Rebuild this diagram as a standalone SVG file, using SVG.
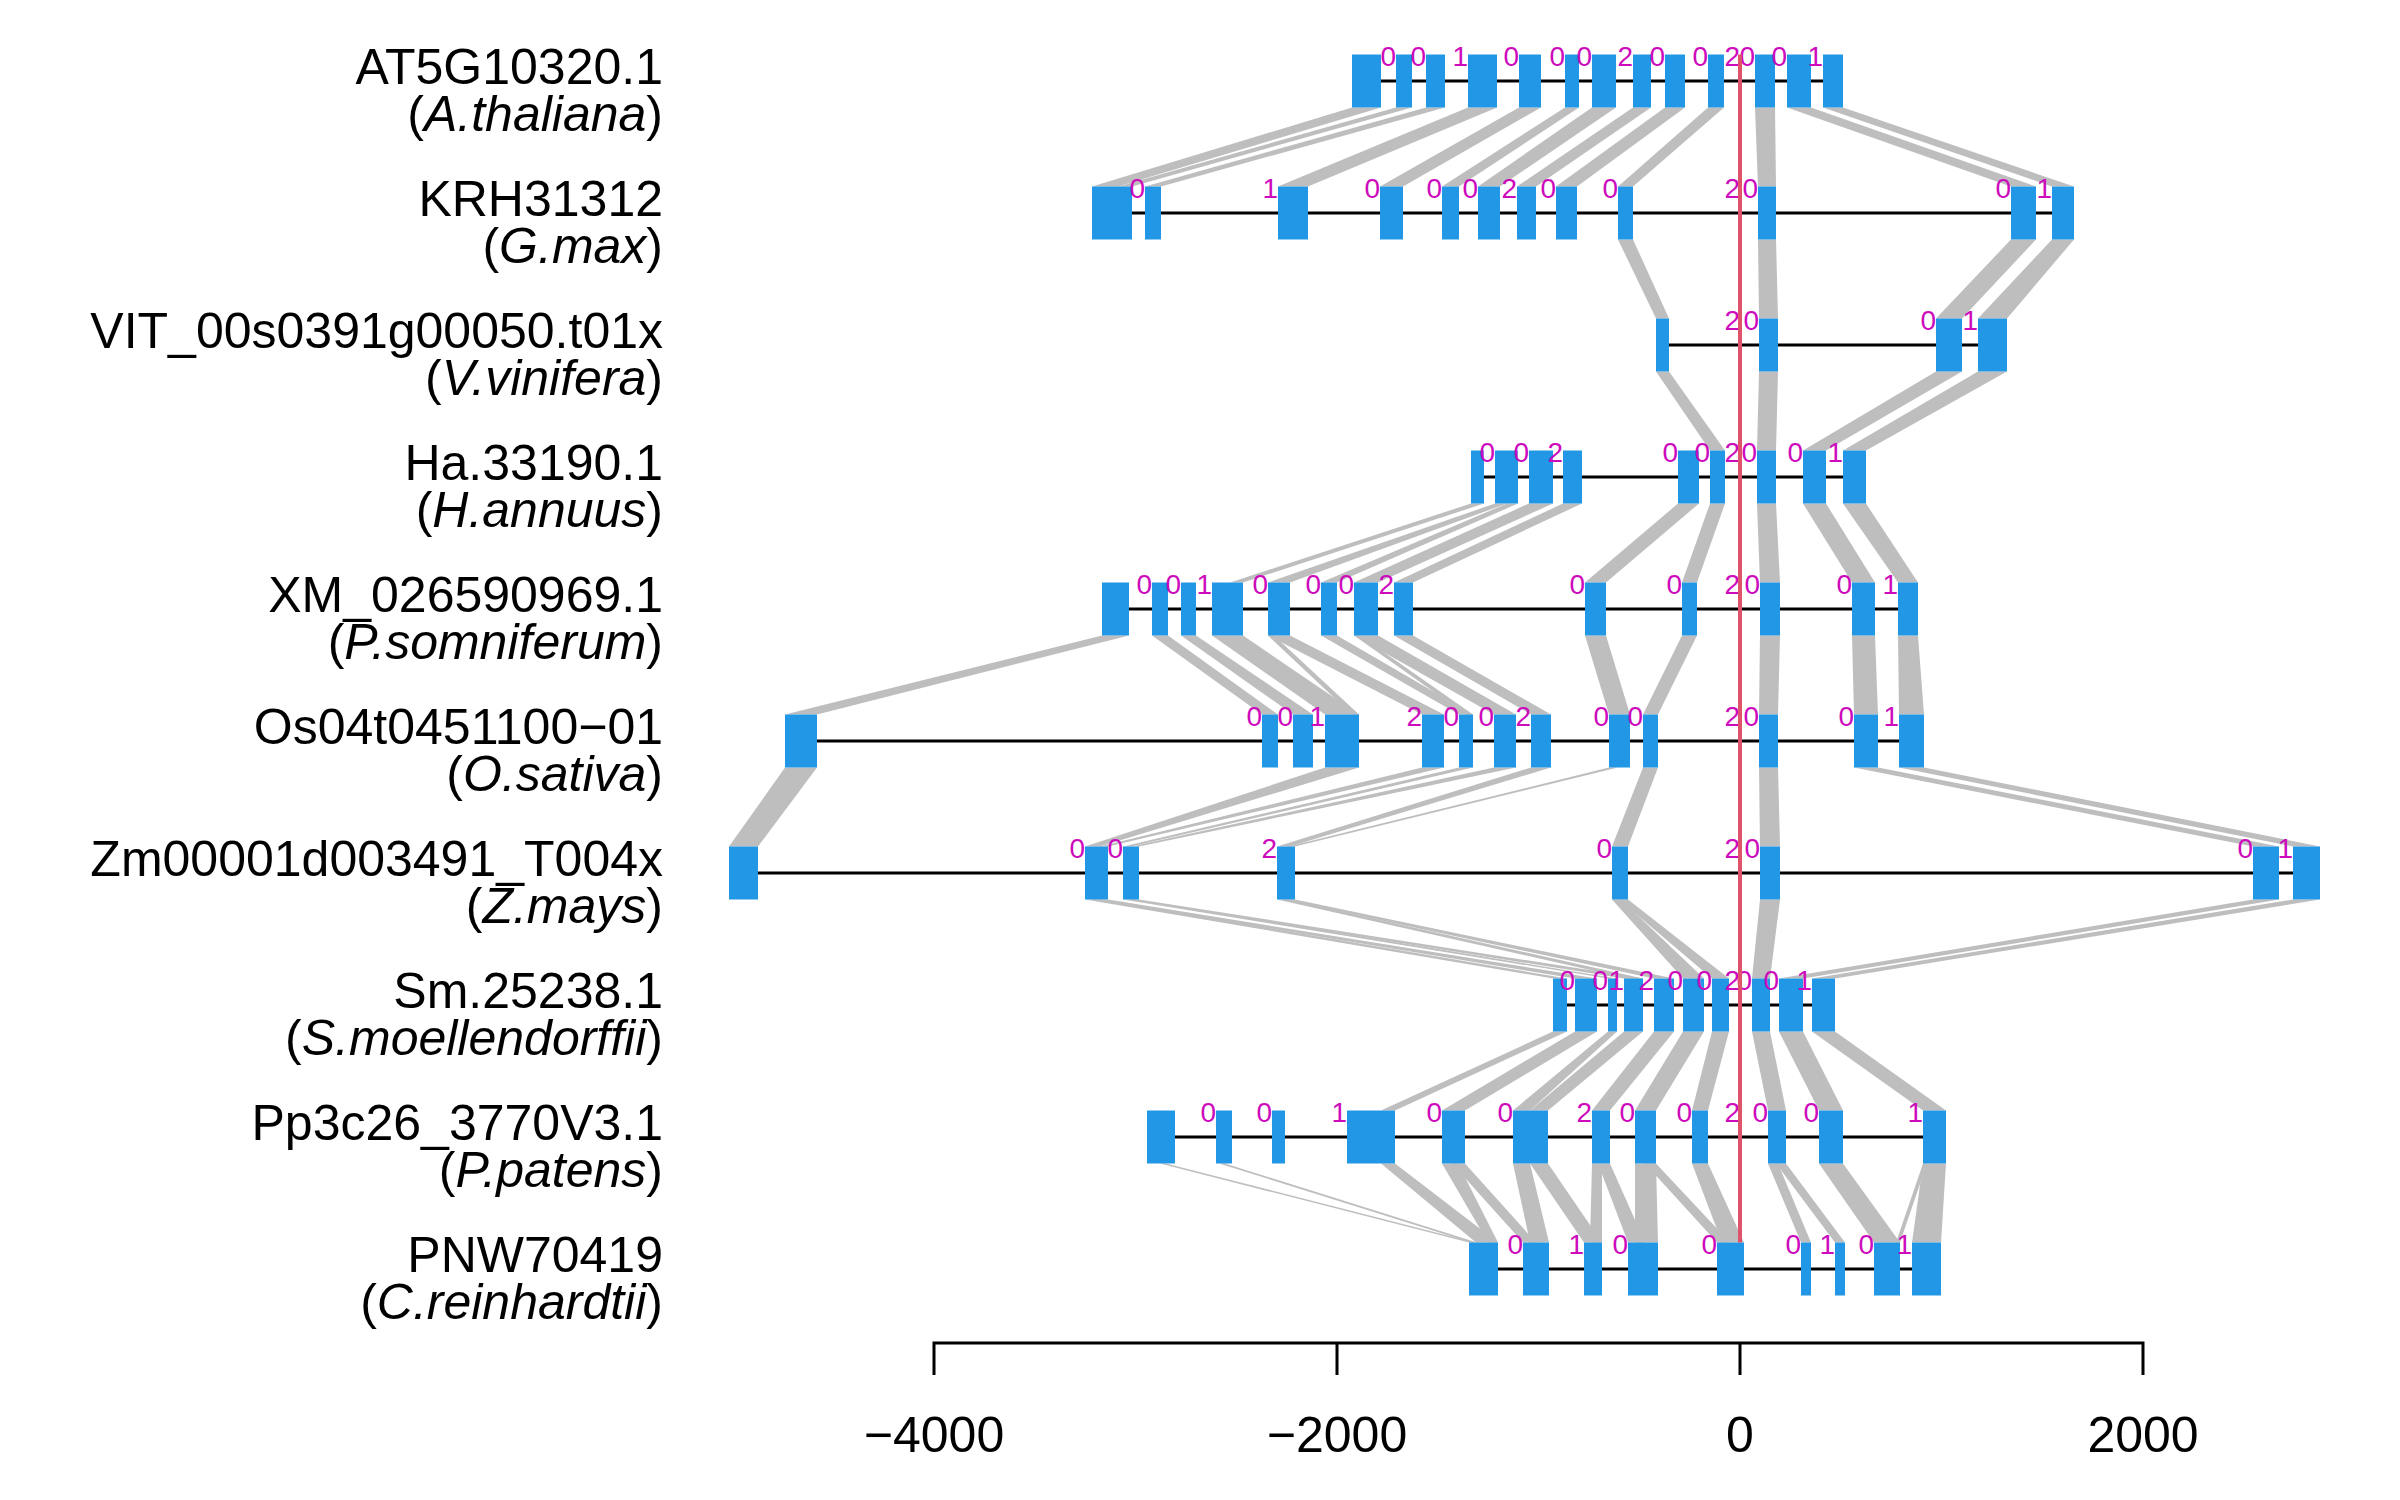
<svg xmlns="http://www.w3.org/2000/svg" width="2400" height="1500" viewBox="0 0 2400 1500">
<style>
.lbl{font-family:"Liberation Sans",Arial,sans-serif;font-size:50px;fill:#000;text-anchor:end}
.ph{font-family:"Liberation Sans",Arial,sans-serif;font-size:28px;fill:#CD0BBC;text-anchor:end}
.ex{fill:#2297E6}
.gl{stroke:#000;stroke-width:3}
.cn polygon{fill:#BEBEBE}
.ax{stroke:#000;stroke-width:3;fill:none}
.tk{font-family:"Liberation Sans",Arial,sans-serif;font-size:50px;fill:#000;text-anchor:middle}
</style>
<rect width="2400" height="1500" fill="#fff"/>
<g id="connectors" class="cn">
<polygon points="1352,107.5 1381,107.5 1118,186.5 1092,186.5"/>
<polygon points="1396,107.5 1412,107.5 1132,186.5 1118,186.5"/>
<polygon points="1426,107.5 1445,107.5 1161,186.5 1145,186.5"/>
<polygon points="1468,107.5 1497,107.5 1308,186.5 1278,186.5"/>
<polygon points="1519,107.5 1541,107.5 1403,186.5 1380,186.5"/>
<polygon points="1565,107.5 1579,107.5 1459,186.5 1442,186.5"/>
<polygon points="1592,107.5 1616,107.5 1500,186.5 1478,186.5"/>
<polygon points="1633,107.5 1651,107.5 1536,186.5 1517,186.5"/>
<polygon points="1665,107.5 1685,107.5 1577,186.5 1556,186.5"/>
<polygon points="1708,107.5 1724,107.5 1633,186.5 1618,186.5"/>
<polygon points="1755,107.5 1775,107.5 1776,186.5 1758,186.5"/>
<polygon points="1787,107.5 1811,107.5 2036,186.5 2011,186.5"/>
<polygon points="1823,107.5 1843,107.5 2074,186.5 2052,186.5"/>

<polygon points="1618,239.5 1633,239.5 1669,318.5 1656,318.5"/>
<polygon points="1758,239.5 1776,239.5 1778,318.5 1759,318.5"/>
<polygon points="2011,239.5 2036,239.5 1962,318.5 1936,318.5"/>
<polygon points="2052,239.5 2074,239.5 2007,318.5 1978,318.5"/>

<polygon points="1656,371.5 1669,371.5 1725,450.5 1710,450.5"/>
<polygon points="1759,371.5 1778,371.5 1776,450.5 1757,450.5"/>
<polygon points="1936,371.5 1962,371.5 1826,450.5 1803,450.5"/>
<polygon points="1978,371.5 2007,371.5 1866,450.5 1843,450.5"/>

<polygon points="1471,503.5 1484,503.5 1243,582.5 1230,582.5"/>
<polygon points="1495,503.5 1507,503.5 1290,582.5 1268,582.5"/>
<polygon points="1507,503.5 1518,503.5 1337,582.5 1321,582.5"/>
<polygon points="1529,503.5 1553,503.5 1378,582.5 1354,582.5"/>
<polygon points="1563,503.5 1582,503.5 1413,582.5 1394,582.5"/>
<polygon points="1678,503.5 1699,503.5 1606,582.5 1585,582.5"/>
<polygon points="1710,503.5 1725,503.5 1697,582.5 1682,582.5"/>
<polygon points="1757,503.5 1776,503.5 1780,582.5 1760,582.5"/>
<polygon points="1803,503.5 1826,503.5 1875,582.5 1852,582.5"/>
<polygon points="1843,503.5 1866,503.5 1918,582.5 1898,582.5"/>

<polygon points="1102,635.5 1129,635.5 817,714.5 785,714.5"/>
<polygon points="1152,635.5 1168,635.5 1278,714.5 1262,714.5"/>
<polygon points="1181,635.5 1196,635.5 1313,714.5 1293,714.5"/>
<polygon points="1212,635.5 1243,635.5 1359,714.5 1325,714.5"/>
<polygon points="1268,635.5 1274,635.5 1359,714.5 1352,714.5"/>
<polygon points="1268,635.5 1290,635.5 1444,714.5 1422,714.5"/>
<polygon points="1321,635.5 1337,635.5 1473,714.5 1459,714.5"/>
<polygon points="1354,635.5 1360,635.5 1473,714.5 1466,714.5"/>
<polygon points="1354,635.5 1378,635.5 1516,714.5 1494,714.5"/>
<polygon points="1394,635.5 1413,635.5 1551,714.5 1531,714.5"/>
<polygon points="1585,635.5 1606,635.5 1630,714.5 1609,714.5"/>
<polygon points="1682,635.5 1697,635.5 1658,714.5 1643,714.5"/>
<polygon points="1760,635.5 1780,635.5 1778,714.5 1759,714.5"/>
<polygon points="1852,635.5 1875,635.5 1878,714.5 1854,714.5"/>
<polygon points="1898,635.5 1918,635.5 1924,714.5 1899,714.5"/>

<polygon points="785,767.5 817,767.5 758,846.5 729,846.5"/>
<polygon points="1325,767.5 1359,767.5 1100,846.5 1085,846.5"/>
<polygon points="1422,767.5 1444,767.5 1108,846.5 1100,846.5"/>
<polygon points="1459,767.5 1473,767.5 1131,846.5 1123,846.5"/>
<polygon points="1494,767.5 1516,767.5 1139,846.5 1131,846.5"/>
<polygon points="1531,767.5 1551,767.5 1290,846.5 1277,846.5"/>
<polygon points="1609,767.5 1618,767.5 1295,846.5 1288,846.5"/>
<polygon points="1643,767.5 1658,767.5 1628,846.5 1612,846.5"/>
<polygon points="1759,767.5 1778,767.5 1780,846.5 1760,846.5"/>
<polygon points="1854,767.5 1878,767.5 2279,846.5 2253,846.5"/>
<polygon points="1899,767.5 1924,767.5 2320,846.5 2293,846.5"/>

<polygon points="1085,899.5 1100,899.5 1567,978.5 1553,978.5"/>
<polygon points="1092,899.5 1108,899.5 1597,978.5 1575,978.5"/>
<polygon points="1123,899.5 1136,899.5 1617,978.5 1608,978.5"/>
<polygon points="1127,899.5 1139,899.5 1643,978.5 1624,978.5"/>
<polygon points="1277,899.5 1288,899.5 1643,978.5 1628,978.5"/>
<polygon points="1283,899.5 1295,899.5 1674,978.5 1654,978.5"/>
<polygon points="1612,899.5 1621,899.5 1704,978.5 1683,978.5"/>
<polygon points="1619,899.5 1628,899.5 1729,978.5 1712,978.5"/>
<polygon points="1760,899.5 1780,899.5 1770,978.5 1752,978.5"/>
<polygon points="2253,899.5 2279,899.5 1803,978.5 1779,978.5"/>
<polygon points="2293,899.5 2320,899.5 1835,978.5 1812,978.5"/>

<polygon points="1553,1031.5 1567,1031.5 1395,1110.5 1381,1110.5"/>
<polygon points="1575,1031.5 1597,1031.5 1465,1110.5 1442,1110.5"/>
<polygon points="1608,1031.5 1617,1031.5 1530,1110.5 1513,1110.5"/>
<polygon points="1624,1031.5 1643,1031.5 1548,1110.5 1530,1110.5"/>
<polygon points="1654,1031.5 1674,1031.5 1610,1110.5 1592,1110.5"/>
<polygon points="1683,1031.5 1704,1031.5 1656,1110.5 1635,1110.5"/>
<polygon points="1712,1031.5 1729,1031.5 1708,1110.5 1692,1110.5"/>
<polygon points="1752,1031.5 1770,1031.5 1786,1110.5 1768,1110.5"/>
<polygon points="1779,1031.5 1803,1031.5 1843,1110.5 1819,1110.5"/>
<polygon points="1812,1031.5 1835,1031.5 1946,1110.5 1923,1110.5"/>

<polygon points="1160,1163.5 1166,1163.5 1475,1242.5 1469,1242.5"/>
<polygon points="1219,1163.5 1225,1163.5 1477,1242.5 1471,1242.5"/>
<polygon points="1381,1163.5 1395,1163.5 1498,1242.5 1476,1242.5"/>
<polygon points="1442,1163.5 1458,1163.5 1498,1242.5 1488,1242.5"/>
<polygon points="1452,1163.5 1465,1163.5 1536,1242.5 1523,1242.5"/>
<polygon points="1513,1163.5 1530,1163.5 1549,1242.5 1530,1242.5"/>
<polygon points="1530,1163.5 1548,1163.5 1602,1242.5 1584,1242.5"/>
<polygon points="1592,1163.5 1602,1163.5 1602,1242.5 1590,1242.5"/>
<polygon points="1598,1163.5 1610,1163.5 1645,1242.5 1628,1242.5"/>
<polygon points="1635,1163.5 1656,1163.5 1658,1242.5 1635,1242.5"/>
<polygon points="1645,1163.5 1656,1163.5 1730,1242.5 1717,1242.5"/>
<polygon points="1692,1163.5 1708,1163.5 1744,1242.5 1722,1242.5"/>
<polygon points="1768,1163.5 1778,1163.5 1811,1242.5 1801,1242.5"/>
<polygon points="1776,1163.5 1786,1163.5 1845,1242.5 1835,1242.5"/>
<polygon points="1819,1163.5 1843,1163.5 1900,1242.5 1874,1242.5"/>
<polygon points="1923,1163.5 1946,1163.5 1941,1242.5 1912,1242.5"/>
<polygon points="1923,1163.5 1927,1163.5 1900,1242.5 1896,1242.5"/>
</g>

<g id="gene-AT5G10320.1">
<text class="lbl" x="663" y="84">AT5G10320.1</text>
<text class="lbl" x="663" y="131">(<tspan font-style="italic">A.thaliana</tspan>)</text>
<line class="gl" x1="1352" y1="81" x2="1843" y2="81"/>
<rect class="ex" x="1352" y="54.5" width="29" height="53"/>
<rect class="ex" x="1396" y="54.5" width="16" height="53"/>
<rect class="ex" x="1426" y="54.5" width="19" height="53"/>
<rect class="ex" x="1468" y="54.5" width="29" height="53"/>
<rect class="ex" x="1519" y="54.5" width="22" height="53"/>
<rect class="ex" x="1565" y="54.5" width="14" height="53"/>
<rect class="ex" x="1592" y="54.5" width="24" height="53"/>
<rect class="ex" x="1633" y="54.5" width="18" height="53"/>
<rect class="ex" x="1665" y="54.5" width="20" height="53"/>
<rect class="ex" x="1708" y="54.5" width="16" height="53"/>
<rect class="ex" x="1755" y="54.5" width="20" height="53"/>
<rect class="ex" x="1787" y="54.5" width="24" height="53"/>
<rect class="ex" x="1823" y="54.5" width="20" height="53"/>
<text class="ph" y="66"><tspan x="1396">0</tspan><tspan x="1426">0</tspan><tspan x="1468">1</tspan><tspan x="1519">0</tspan><tspan x="1565">0</tspan><tspan x="1592">0</tspan><tspan x="1633">2</tspan><tspan x="1665">0</tspan><tspan x="1708">0</tspan><tspan x="1740">2</tspan><tspan x="1755">0</tspan><tspan x="1787">0</tspan><tspan x="1823">1</tspan></text>
</g>

<g id="gene-KRH31312">
<text class="lbl" x="663" y="216">KRH31312</text>
<text class="lbl" x="663" y="263">(<tspan font-style="italic">G.max</tspan>)</text>
<line class="gl" x1="1092" y1="213" x2="2074" y2="213"/>
<rect class="ex" x="1092" y="186.5" width="40" height="53"/>
<rect class="ex" x="1145" y="186.5" width="16" height="53"/>
<rect class="ex" x="1278" y="186.5" width="30" height="53"/>
<rect class="ex" x="1380" y="186.5" width="23" height="53"/>
<rect class="ex" x="1442" y="186.5" width="17" height="53"/>
<rect class="ex" x="1478" y="186.5" width="22" height="53"/>
<rect class="ex" x="1517" y="186.5" width="19" height="53"/>
<rect class="ex" x="1556" y="186.5" width="21" height="53"/>
<rect class="ex" x="1618" y="186.5" width="15" height="53"/>
<rect class="ex" x="1758" y="186.5" width="18" height="53"/>
<rect class="ex" x="2011" y="186.5" width="25" height="53"/>
<rect class="ex" x="2052" y="186.5" width="22" height="53"/>
<text class="ph" y="198"><tspan x="1145">0</tspan><tspan x="1278">1</tspan><tspan x="1380">0</tspan><tspan x="1442">0</tspan><tspan x="1478">0</tspan><tspan x="1517">2</tspan><tspan x="1556">0</tspan><tspan x="1618">0</tspan><tspan x="1740">2</tspan><tspan x="1758">0</tspan><tspan x="2011">0</tspan><tspan x="2052">1</tspan></text>
</g>

<g id="gene-VIT_00s0391g00050.t01x">
<text class="lbl" x="663" y="348">VIT_00s0391g00050.t01x</text>
<text class="lbl" x="663" y="395">(<tspan font-style="italic">V.vinifera</tspan>)</text>
<line class="gl" x1="1656" y1="345" x2="2007" y2="345"/>
<rect class="ex" x="1656" y="318.5" width="13" height="53"/>
<rect class="ex" x="1759" y="318.5" width="19" height="53"/>
<rect class="ex" x="1936" y="318.5" width="26" height="53"/>
<rect class="ex" x="1978" y="318.5" width="29" height="53"/>
<text class="ph" y="330"><tspan x="1740">2</tspan><tspan x="1759">0</tspan><tspan x="1936">0</tspan><tspan x="1978">1</tspan></text>
</g>

<g id="gene-Ha.33190.1">
<text class="lbl" x="663" y="480">Ha.33190.1</text>
<text class="lbl" x="663" y="527">(<tspan font-style="italic">H.annuus</tspan>)</text>
<line class="gl" x1="1471" y1="477" x2="1866" y2="477"/>
<rect class="ex" x="1471" y="450.5" width="13" height="53"/>
<rect class="ex" x="1495" y="450.5" width="23" height="53"/>
<rect class="ex" x="1529" y="450.5" width="24" height="53"/>
<rect class="ex" x="1563" y="450.5" width="19" height="53"/>
<rect class="ex" x="1678" y="450.5" width="21" height="53"/>
<rect class="ex" x="1710" y="450.5" width="15" height="53"/>
<rect class="ex" x="1757" y="450.5" width="19" height="53"/>
<rect class="ex" x="1803" y="450.5" width="23" height="53"/>
<rect class="ex" x="1843" y="450.5" width="23" height="53"/>
<text class="ph" y="462"><tspan x="1495">0</tspan><tspan x="1529">0</tspan><tspan x="1563">2</tspan><tspan x="1678">0</tspan><tspan x="1710">0</tspan><tspan x="1740">2</tspan><tspan x="1757">0</tspan><tspan x="1803">0</tspan><tspan x="1843">1</tspan></text>
</g>

<g id="gene-XM_026590969.1">
<text class="lbl" x="663" y="612">XM_026590969.1</text>
<text class="lbl" x="663" y="659">(<tspan font-style="italic">P.somniferum</tspan>)</text>
<line class="gl" x1="1102" y1="609" x2="1918" y2="609"/>
<rect class="ex" x="1102" y="582.5" width="27" height="53"/>
<rect class="ex" x="1152" y="582.5" width="16" height="53"/>
<rect class="ex" x="1181" y="582.5" width="15" height="53"/>
<rect class="ex" x="1212" y="582.5" width="31" height="53"/>
<rect class="ex" x="1268" y="582.5" width="22" height="53"/>
<rect class="ex" x="1321" y="582.5" width="16" height="53"/>
<rect class="ex" x="1354" y="582.5" width="24" height="53"/>
<rect class="ex" x="1394" y="582.5" width="19" height="53"/>
<rect class="ex" x="1585" y="582.5" width="21" height="53"/>
<rect class="ex" x="1682" y="582.5" width="15" height="53"/>
<rect class="ex" x="1760" y="582.5" width="20" height="53"/>
<rect class="ex" x="1852" y="582.5" width="23" height="53"/>
<rect class="ex" x="1898" y="582.5" width="20" height="53"/>
<text class="ph" y="594"><tspan x="1152">0</tspan><tspan x="1181">0</tspan><tspan x="1212">1</tspan><tspan x="1268">0</tspan><tspan x="1321">0</tspan><tspan x="1354">0</tspan><tspan x="1394">2</tspan><tspan x="1585">0</tspan><tspan x="1682">0</tspan><tspan x="1740">2</tspan><tspan x="1760">0</tspan><tspan x="1852">0</tspan><tspan x="1898">1</tspan></text>
</g>

<g id="gene-Os04t0451100-01">
<text class="lbl" x="663" y="744">Os04t0451100−01</text>
<text class="lbl" x="663" y="791">(<tspan font-style="italic">O.sativa</tspan>)</text>
<line class="gl" x1="785" y1="741" x2="1924" y2="741"/>
<rect class="ex" x="785" y="714.5" width="32" height="53"/>
<rect class="ex" x="1262" y="714.5" width="16" height="53"/>
<rect class="ex" x="1293" y="714.5" width="20" height="53"/>
<rect class="ex" x="1325" y="714.5" width="34" height="53"/>
<rect class="ex" x="1422" y="714.5" width="22" height="53"/>
<rect class="ex" x="1459" y="714.5" width="14" height="53"/>
<rect class="ex" x="1494" y="714.5" width="22" height="53"/>
<rect class="ex" x="1531" y="714.5" width="20" height="53"/>
<rect class="ex" x="1609" y="714.5" width="21" height="53"/>
<rect class="ex" x="1643" y="714.5" width="15" height="53"/>
<rect class="ex" x="1759" y="714.5" width="19" height="53"/>
<rect class="ex" x="1854" y="714.5" width="24" height="53"/>
<rect class="ex" x="1899" y="714.5" width="25" height="53"/>
<text class="ph" y="726"><tspan x="1262">0</tspan><tspan x="1293">0</tspan><tspan x="1325">1</tspan><tspan x="1422">2</tspan><tspan x="1459">0</tspan><tspan x="1494">0</tspan><tspan x="1531">2</tspan><tspan x="1609">0</tspan><tspan x="1643">0</tspan><tspan x="1740">2</tspan><tspan x="1759">0</tspan><tspan x="1854">0</tspan><tspan x="1899">1</tspan></text>
</g>

<g id="gene-Zm00001d003491_T004x">
<text class="lbl" x="663" y="876">Zm00001d003491_T004x</text>
<text class="lbl" x="663" y="923">(<tspan font-style="italic">Z.mays</tspan>)</text>
<line class="gl" x1="729" y1="873" x2="2320" y2="873"/>
<rect class="ex" x="729" y="846.5" width="29" height="53"/>
<rect class="ex" x="1085" y="846.5" width="23" height="53"/>
<rect class="ex" x="1123" y="846.5" width="16" height="53"/>
<rect class="ex" x="1277" y="846.5" width="18" height="53"/>
<rect class="ex" x="1612" y="846.5" width="16" height="53"/>
<rect class="ex" x="1760" y="846.5" width="20" height="53"/>
<rect class="ex" x="2253" y="846.5" width="26" height="53"/>
<rect class="ex" x="2293" y="846.5" width="27" height="53"/>
<text class="ph" y="858"><tspan x="1085">0</tspan><tspan x="1123">0</tspan><tspan x="1277">2</tspan><tspan x="1612">0</tspan><tspan x="1740">2</tspan><tspan x="1760">0</tspan><tspan x="2253">0</tspan><tspan x="2293">1</tspan></text>
</g>

<g id="gene-Sm.25238.1">
<text class="lbl" x="663" y="1008">Sm.25238.1</text>
<text class="lbl" x="663" y="1055">(<tspan font-style="italic">S.moellendorffii</tspan>)</text>
<line class="gl" x1="1553" y1="1005" x2="1835" y2="1005"/>
<rect class="ex" x="1553" y="978.5" width="14" height="53"/>
<rect class="ex" x="1575" y="978.5" width="22" height="53"/>
<rect class="ex" x="1608" y="978.5" width="9" height="53"/>
<rect class="ex" x="1624" y="978.5" width="19" height="53"/>
<rect class="ex" x="1654" y="978.5" width="20" height="53"/>
<rect class="ex" x="1683" y="978.5" width="21" height="53"/>
<rect class="ex" x="1712" y="978.5" width="17" height="53"/>
<rect class="ex" x="1752" y="978.5" width="18" height="53"/>
<rect class="ex" x="1779" y="978.5" width="24" height="53"/>
<rect class="ex" x="1812" y="978.5" width="23" height="53"/>
<text class="ph" y="990"><tspan x="1575">0</tspan><tspan x="1608">0</tspan><tspan x="1624">1</tspan><tspan x="1654">2</tspan><tspan x="1683">0</tspan><tspan x="1712">0</tspan><tspan x="1740">2</tspan><tspan x="1752">0</tspan><tspan x="1779">0</tspan><tspan x="1812">1</tspan></text>
</g>

<g id="gene-Pp3c26_3770V3.1">
<text class="lbl" x="663" y="1140">Pp3c26_3770V3.1</text>
<text class="lbl" x="663" y="1187">(<tspan font-style="italic">P.patens</tspan>)</text>
<line class="gl" x1="1147" y1="1137" x2="1946" y2="1137"/>
<rect class="ex" x="1147" y="1110.5" width="28" height="53"/>
<rect class="ex" x="1216" y="1110.5" width="16" height="53"/>
<rect class="ex" x="1272" y="1110.5" width="13" height="53"/>
<rect class="ex" x="1347" y="1110.5" width="48" height="53"/>
<rect class="ex" x="1442" y="1110.5" width="23" height="53"/>
<rect class="ex" x="1513" y="1110.5" width="35" height="53"/>
<rect class="ex" x="1592" y="1110.5" width="18" height="53"/>
<rect class="ex" x="1635" y="1110.5" width="21" height="53"/>
<rect class="ex" x="1692" y="1110.5" width="16" height="53"/>
<rect class="ex" x="1768" y="1110.5" width="18" height="53"/>
<rect class="ex" x="1819" y="1110.5" width="24" height="53"/>
<rect class="ex" x="1923" y="1110.5" width="23" height="53"/>
<text class="ph" y="1122"><tspan x="1216">0</tspan><tspan x="1272">0</tspan><tspan x="1347">1</tspan><tspan x="1442">0</tspan><tspan x="1513">0</tspan><tspan x="1592">2</tspan><tspan x="1635">0</tspan><tspan x="1692">0</tspan><tspan x="1740">2</tspan><tspan x="1768">0</tspan><tspan x="1819">0</tspan><tspan x="1923">1</tspan></text>
</g>

<g id="gene-PNW70419">
<text class="lbl" x="663" y="1272">PNW70419</text>
<text class="lbl" x="663" y="1319">(<tspan font-style="italic">C.reinhardtii</tspan>)</text>
<line class="gl" x1="1469" y1="1269" x2="1941" y2="1269"/>
<rect class="ex" x="1469" y="1242.5" width="29" height="53"/>
<rect class="ex" x="1523" y="1242.5" width="26" height="53"/>
<rect class="ex" x="1584" y="1242.5" width="18" height="53"/>
<rect class="ex" x="1628" y="1242.5" width="30" height="53"/>
<rect class="ex" x="1717" y="1242.5" width="27" height="53"/>
<rect class="ex" x="1801" y="1242.5" width="10" height="53"/>
<rect class="ex" x="1835" y="1242.5" width="10" height="53"/>
<rect class="ex" x="1874" y="1242.5" width="26" height="53"/>
<rect class="ex" x="1912" y="1242.5" width="29" height="53"/>
<text class="ph" y="1254"><tspan x="1523">0</tspan><tspan x="1584">1</tspan><tspan x="1628">0</tspan><tspan x="1717">0</tspan><tspan x="1801">0</tspan><tspan x="1835">1</tspan><tspan x="1874">0</tspan><tspan x="1912">1</tspan></text>
</g>

<line id="reference-line" x1="1740" y1="54.5" x2="1740" y2="1242.5" stroke="#DF536B" stroke-width="4"/>

<g id="axis">
<path class="ax" d="M934,1375 V1343 H2143 V1375 M1337,1343 V1375 M1740,1343 V1375"/>
<text class="tk" x="934" y="1452">−4000</text>
<text class="tk" x="1337" y="1452">−2000</text>
<text class="tk" x="1740" y="1452">0</text>
<text class="tk" x="2143" y="1452">2000</text>
</g>
</svg>
